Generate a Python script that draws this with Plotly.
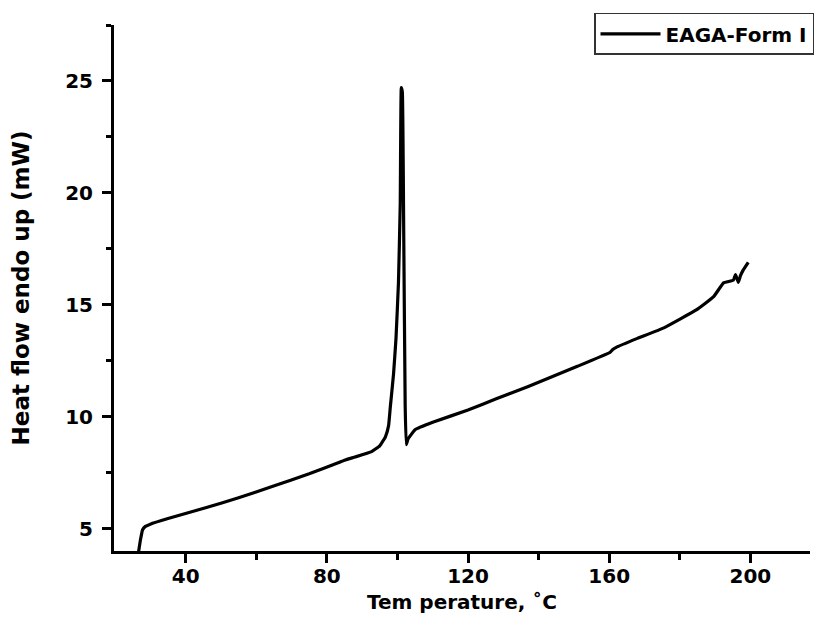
import plotly.graph_objects as go

temperature = [26.6, 27.2, 27.8, 28.6, 30.0, 35.0, 45.9, 55.0, 64.5, 75.0, 83.4, 85.4, 88.0,
               92.7, 95.0, 96.6, 97.5, 98.0, 98.9, 99.6, 100.3, 100.8, 101.1, 101.4, 101.8,
               102.2, 102.5, 103.0, 105.0, 110.0, 120.0, 128.0, 136.9, 151.0, 160.3, 161.0,
               162.0, 168.0, 175.5, 184.8, 189.6, 192.4, 195.2, 195.8, 196.6, 197.2, 198.0, 199.4]
heat_flow = [3.9, 4.5, 4.95, 5.1, 5.2, 5.45, 5.94, 6.38, 6.88, 7.45, 7.95, 8.08, 8.2,
             8.44, 8.7, 9.1, 9.6, 10.45, 11.9, 13.5, 16.0, 19.5, 24.7, 24.5, 18.0,
             10.5, 8.75, 9.0, 9.42, 9.75, 10.3, 10.8, 11.34, 12.25, 12.88, 13.0,
             13.1, 13.5, 13.97, 14.78, 15.36, 15.98, 16.1, 16.35, 16.0, 16.3, 16.56, 16.9]

x_ticks = [40, 80, 120, 160, 200]
y_ticks = [5, 10, 15, 20, 25]

font_family = "DejaVu Sans, Liberation Sans, Arial, sans-serif"

fig = go.Figure()
fig.add_trace(go.Scatter(
    x=temperature, y=heat_flow, mode="lines", name="<b>EAGA-Form I</b>",
    line=dict(color="black", width=3.2, shape="spline", smoothing=0.3),
))

axis_common = dict(
    showline=True, linecolor="black", linewidth=3, mirror=False,
    ticks="outside", tickwidth=3, ticklen=9, tickcolor="black",
    showgrid=False, zeroline=False, automargin=False,
    tickfont=dict(family=font_family, size=20, color="black", weight="bold"),
)

fig.update_layout(
    width=806, height=628,
    margin=dict(l=106, r=0, t=17, b=85),
    paper_bgcolor="white", plot_bgcolor="white",
    font=dict(family=font_family, color="black"),
    xaxis=dict(
        range=[19.7, 216.9], tickvals=x_ticks,
        minor=dict(ticks="outside", ticklen=6, tickwidth=3, tickcolor="black",
                   tickvals=[60, 100, 140, 180]),
        title=dict(text="<b>Tem perature, ˚C</b>", font=dict(family=font_family, size=20, color="black"),
                   standoff=8),
        ticklabelstandoff=-4,
        **axis_common,
    ),
    yaxis=dict(
        range=[4, 27.5], tickvals=y_ticks,
        minor=dict(ticks="outside", ticklen=5, tickwidth=3, tickcolor="black",
                   tickvals=[7.5, 12.5, 17.5, 22.5, 27.5]),
        title=dict(text="<b>Heat flow endo up (mW)</b>", font=dict(family=font_family, size=23, color="black"),
                   standoff=34),
        ticklabelstandoff=5,
        **axis_common,
    ),
    showlegend=True,
    legend=dict(
        x=0.69, xanchor="left", y=1.023, yanchor="top",
        bordercolor="#333333", borderwidth=1.5, bgcolor="white",
        font=dict(family=font_family, size=20, color="black"),
        itemwidth=60,
    ),
)

fig.write_html("out.html")
